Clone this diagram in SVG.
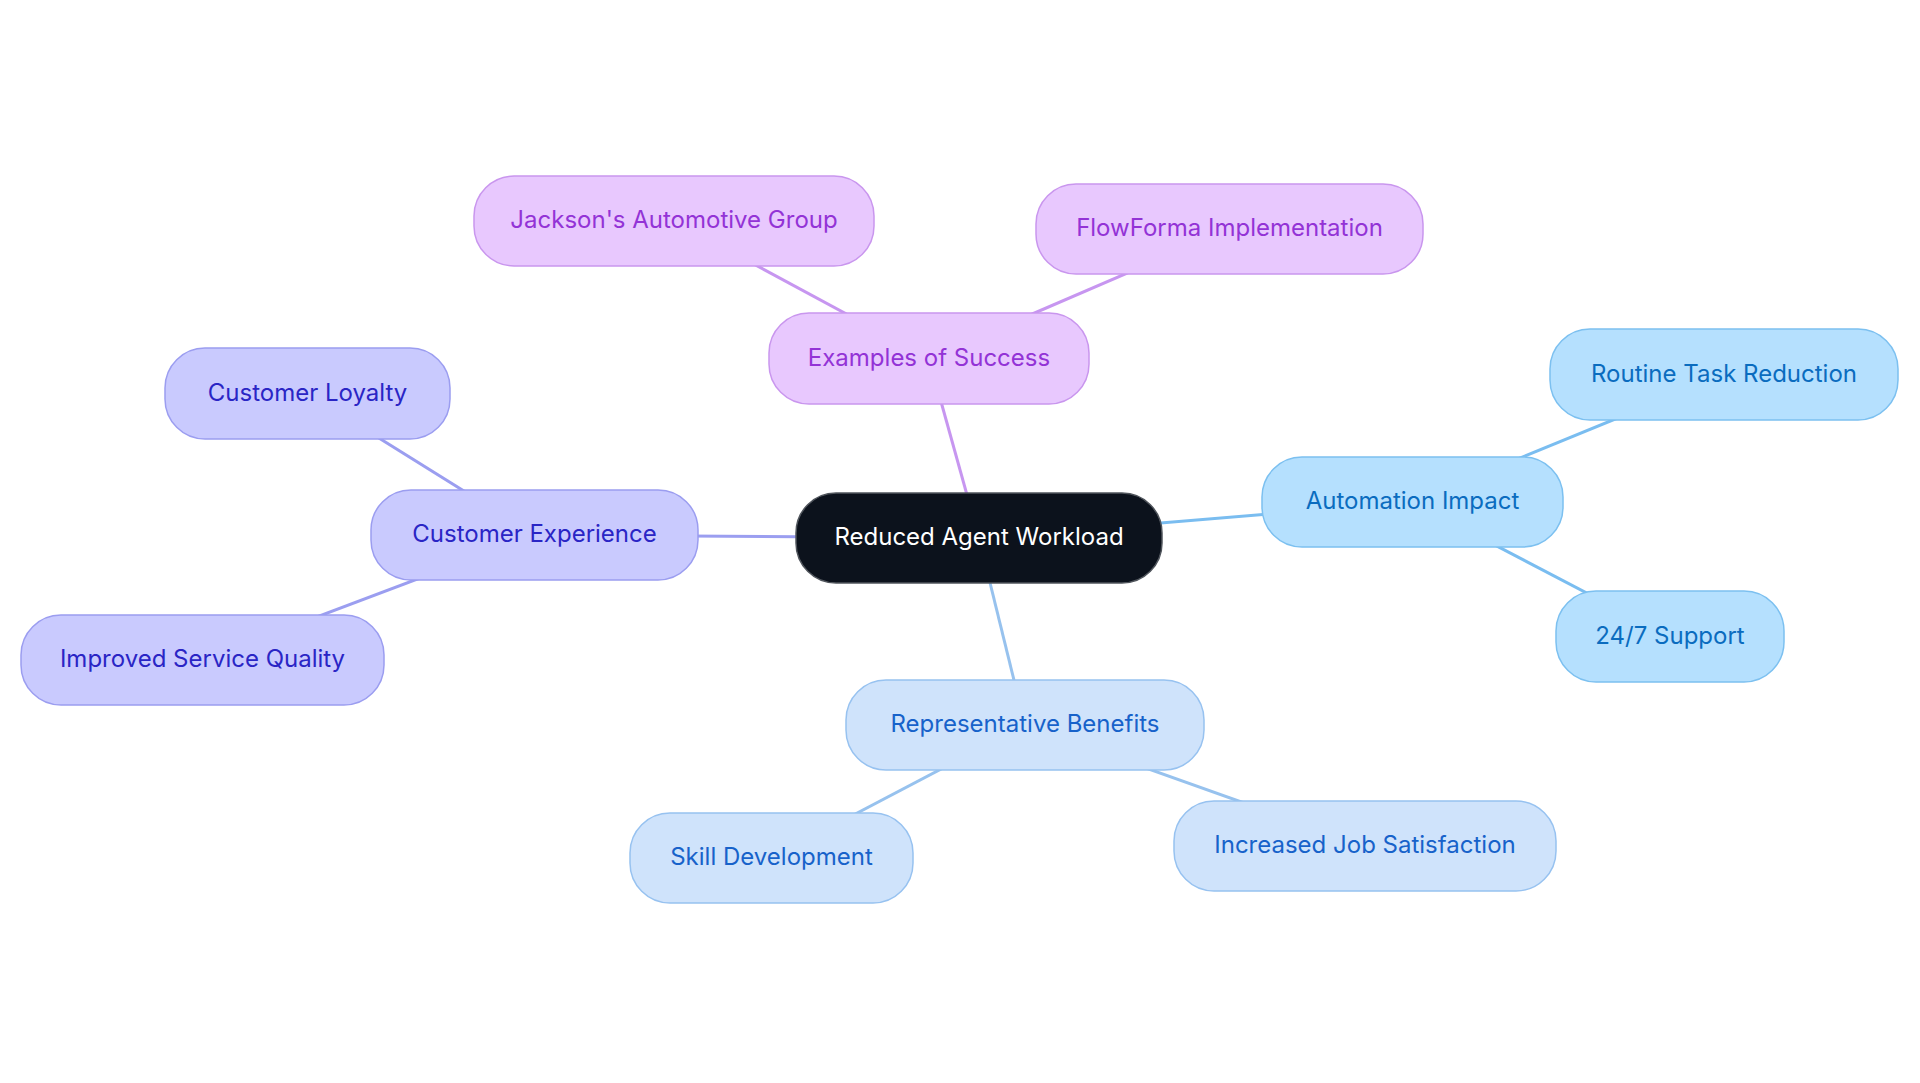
<svg xmlns="http://www.w3.org/2000/svg" width="1920" height="1083" viewBox="0 0 1920 1083">
<style>
text{font-family:Inter,"Noto Sans",sans-serif;font-size:24px;text-anchor:middle;dominant-baseline:central}
.e{stroke-width:3;fill:none}
.p rect{fill:#e8c8fe;stroke:#c996ee;stroke-width:1.5}
.p text{fill:#9333d6}
.a rect{fill:#b5e0fe;stroke:#7cc0f0;stroke-width:1.5}
.a text{fill:#0a6cbf}
.r rect{fill:#cfe3fb;stroke:#97c2f0;stroke-width:1.5}
.r text{fill:#1762ca}
.c rect{fill:#c9cafe;stroke:#9b9df0;stroke-width:1.5}
.c text{fill:#2a25c5}
</style>
<rect width="1920" height="1083" fill="#ffffff"/>
<g id="connectors">
<line class="e" stroke="#c796f0" x1="979" y1="538" x2="929" y2="358.5"/>
<line class="e" stroke="#c796f0" x1="929" y1="358.5" x2="674" y2="221"/>
<line class="e" stroke="#c796f0" x1="929" y1="358.5" x2="1229.5" y2="229"/>
<line class="e" stroke="#7abdf0" x1="979" y1="538" x2="1412.5" y2="502"/>
<line class="e" stroke="#7abdf0" x1="1412.5" y1="502" x2="1724" y2="374.5"/>
<line class="e" stroke="#7abdf0" x1="1412.5" y1="502" x2="1670" y2="636.5"/>
<line class="e" stroke="#97c2ee" x1="979" y1="538" x2="1025" y2="725"/>
<line class="e" stroke="#97c2ee" x1="1025" y1="725" x2="771.5" y2="858"/>
<line class="e" stroke="#97c2ee" x1="1025" y1="725" x2="1365" y2="846"/>
<line class="e" stroke="#9b9ef0" x1="979" y1="538" x2="534.5" y2="535"/>
<line class="e" stroke="#9b9ef0" x1="534.5" y1="535" x2="307.5" y2="393.5"/>
<line class="e" stroke="#9b9ef0" x1="534.5" y1="535" x2="202.5" y2="660"/>
</g>
<g id="n-center"><rect x="796" y="493" width="366" height="90" rx="40" fill="#0c121c" stroke="#50555c" stroke-width="1.5"/><text x="979" y="536.5" fill="#ffffff">Reduced Agent Workload</text></g>
<g id="n-examples" class="p"><rect x="769" y="313" width="320" height="91" rx="40"/><text x="929" y="357">Examples of Success</text></g>
<g id="n-jackson" class="p"><rect x="474" y="176" width="400" height="90" rx="40"/><text x="674" y="219.5">Jackson's Automotive Group</text></g>
<g id="n-flowforma" class="p"><rect x="1036" y="184" width="387" height="90" rx="40"/><text x="1229.5" y="227.5">FlowForma Implementation</text></g>
<g id="n-automation" class="a"><rect x="1262" y="457" width="301" height="90" rx="40"/><text x="1412.5" y="500.5">Automation Impact</text></g>
<g id="n-routine" class="a"><rect x="1550" y="329" width="348" height="91" rx="40"/><text x="1724" y="373">Routine Task Reduction</text></g>
<g id="n-support" class="a"><rect x="1556" y="591" width="228" height="91" rx="40"/><text x="1670" y="635">24/7 Support</text></g>
<g id="n-rep" class="r"><rect x="846" y="680" width="358" height="90" rx="40"/><text x="1025" y="723.5">Representative Benefits</text></g>
<g id="n-skill" class="r"><rect x="630" y="813" width="283" height="90" rx="40"/><text x="771.5" y="856.5">Skill Development</text></g>
<g id="n-job" class="r"><rect x="1174" y="801" width="382" height="90" rx="40"/><text x="1365" y="844.5">Increased Job Satisfaction</text></g>
<g id="n-cx" class="c"><rect x="371" y="490" width="327" height="90" rx="40"/><text x="534.5" y="533.5">Customer Experience</text></g>
<g id="n-loyalty" class="c"><rect x="165" y="348" width="285" height="91" rx="40"/><text x="307.5" y="392">Customer Loyalty</text></g>
<g id="n-quality" class="c"><rect x="21" y="615" width="363" height="90" rx="40"/><text x="202.5" y="658.5">Improved Service Quality</text></g>
</svg>
